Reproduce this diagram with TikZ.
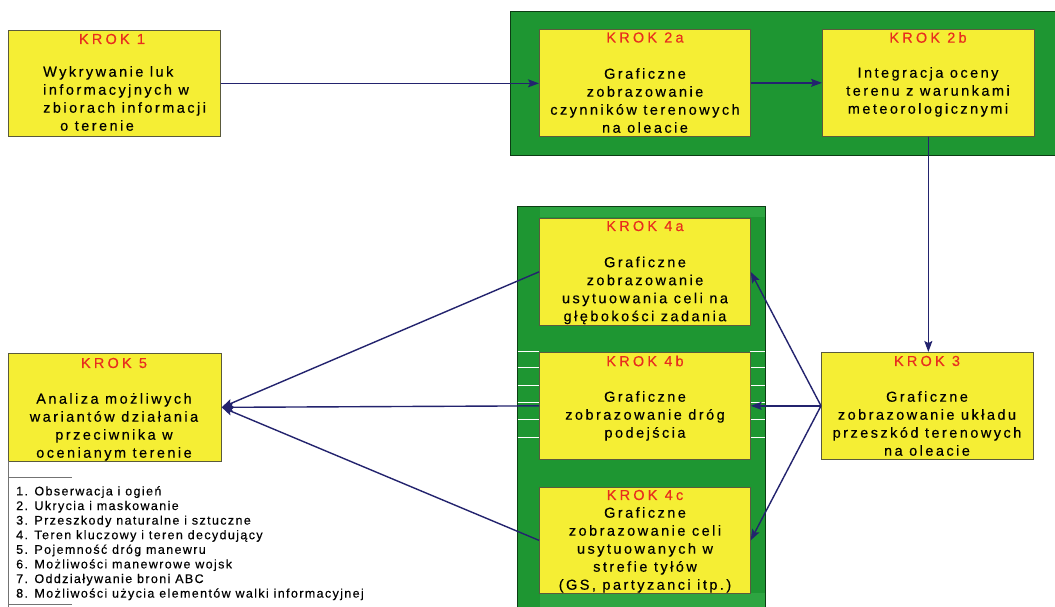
\documentclass[tikz,border=0pt]{standalone}
\usepackage{fontspec}
\setmainfont{Liberation Sans}
\newfontfamily\boxfont[LetterSpace=17,FakeBold=0.3]{Liberation Sans}
\newfontfamily\titlefont[LetterSpace=22,FakeBold=0.3]{Liberation Sans}
\newfontfamily\legfont[LetterSpace=11,FakeBold=0.3]{Liberation Sans}
\usetikzlibrary{arrows.meta}
\definecolor{kyellow}{RGB}{245,238,52}
\definecolor{kgreen}{RGB}{30,150,50}
\definecolor{kgreenlight}{RGB}{45,165,65}
\definecolor{kred}{RGB}{232,45,30}
\definecolor{knavy}{RGB}{35,35,110}
\definecolor{kborder}{RGB}{90,90,60}
\begin{document}
\begin{tikzpicture}[x=1pt,y=-1pt,
 kbox/.style={draw=kborder, fill=kyellow, line width=0.7pt, inner sep=0pt, anchor=north west, minimum width=211pt, minimum height=107pt},
 ktitle/.style={font=\titlefont\fontsize{14.5}{17}\selectfont, text=kred, inner sep=0pt, anchor=center},
 kbody/.style={font=\boxfont\fontsize{14.5}{18}\selectfont, text=black, inner sep=0pt, align=center, anchor=north},
 band/.style={fill=kgreen, draw=black!60!kgreen, line width=0.6pt},
 conn/.style={draw=knavy, line width=1.4pt, -{Stealth[length=11pt,width=8pt,inset=2pt]}},
 legline/.style={draw=black!55, line width=0.7pt},
 stripe/.style={draw=white, line width=0.8pt}
]
\useasboundingbox (0,0) rectangle (1055,607);
\fill[white] (0,0) rectangle (1055,607);

% green bands
\path[band] (510,11) rectangle (1056,155);
\path[band] (517,206) rectangle (765,608);
\fill[kgreenlight] (540,206.5) rectangle (764.5,217);
\fill[kgreenlight] (540,593) rectangle (764.5,607);
\foreach \yy in {351,367,385,402,419,437}{
  \draw[stripe] (517.5,\yy) -- (539,\yy);
  \draw[stripe] (750,\yy) -- (764.5,\yy);
}

% boxes
\node[kbox, minimum width=212pt, minimum height=106pt] (k1) at (8,30) {};
\node[kbox] (k2a) at (539,29) {};
\node[kbox, minimum width=212pt] (k2b) at (822,29) {};
\node[kbox] (k4a) at (539,218) {};
\node[kbox] (k4b) at (539,352) {};
\node[kbox, minimum width=212pt] (k3) at (821,352) {};
\node[kbox, minimum height=106pt] (k4c) at (539,487) {};
\node[kbox, minimum width=213pt, minimum height=108pt] (k5) at (8,353) {};

% titles
\node[ktitle] (t1) at (112,39) {KROK 1};
\node[ktitle] (t2a) at (645,37.5) {KROK 2a};
\node[ktitle] (t2b) at (928,37.5) {KROK 2b};
\node[ktitle] (t4a) at (645,226) {KROK 4a};
\node[ktitle] (t4b) at (645,361) {KROK 4b};
\node[ktitle] (t3) at (927,361) {KROK 3};
\node[ktitle] (t4c) at (645,495) {KROK 4c};
\node[ktitle] (t5) at (114,363) {KROK 5};

% bodies
\node[kbody, align=left, anchor=north west] (b1) at (43,66) {Wykrywanie luk\\informacyjnych w\\zbiorach informacji\\\hspace*{17pt}o terenie};
\node[kbody] (b2a) at (645,68) {Graficzne\\zobrazowanie\\czynników terenowych\\na oleacie};
\node[kbody] (b2b) at (928,67) {Integracja oceny\\terenu z warunkami\\meteorologicznymi};
\node[kbody] (b4a) at (645,256.5) {Graficzne\\zobrazowanie\\usytuowania celi na\\głębokości zadania};
\node[kbody] (b4b) at (645,391) {Graficzne\\zobrazowanie dróg\\podejścia};
\node[kbody] (b3) at (927,391) {Graficzne\\zobrazowanie układu\\przeszkód terenowych\\na oleacie};
\node[kbody] (b4c) at (645,507) {Graficzne\\zobrazowanie celi\\usytuowanych w\\strefie tyłów\\(GS, partyzanci itp.)};
\node[kbody] (b5) at (114,393) {Analiza możliwych\\wariantów działania\\przeciwnika w\\ocenianym terenie};

% legend
\draw[legline] (8,461) -- (8,607);
\draw[legline] (8,477) -- (72,477);
\draw[legline] (8,604) -- (72,604);
\node[font=\legfont\fontsize{12.5}{14.6}\selectfont, align=left, anchor=north west, inner sep=0pt] (leg) at (16,486)
{1. Obserwacja i ogień\\2. Ukrycia i maskowanie\\3. Przeszkody naturalne i sztuczne\\4. Teren kluczowy i teren decydujący\\5. Pojemność dróg manewru\\6. Możliwości manewrowe wojsk\\7. Oddziaływanie broni ABC\\8. Możliwości użycia elementów walki informacyjnej};

% connectors
\draw[conn] (k1.east) -- (k1.east -| k2a.west);
\draw[conn] (k2a.east) -- (k2b.west);
\draw[conn] (k2b.south) -- (k2b.south |- k3.north);
\draw[conn] (k3.west) -- (k4a.east);
\draw[conn] (k3.west) -- (k4b.east);
\draw[conn] (k3.west) -- (k4c.east);
\draw[conn] (k4a.west) -- (k5.east);
\draw[conn] (k4b.west) -- (k5.east);
\draw[conn] (k4c.west) -- (k5.east);
\end{tikzpicture}
\end{document}
